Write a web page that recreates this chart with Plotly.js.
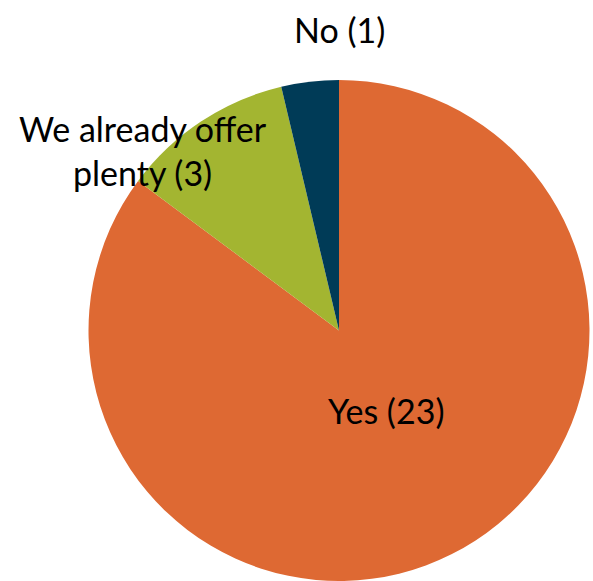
<!DOCTYPE html>
<html>
<head>
<meta charset="utf-8">
<script src="https://cdn.plot.ly/plotly-3.0.1.min.js"></script>
<style>html,body{margin:0;padding:0;background:#fff;}</style>
</head>
<body>
<div id="chart" style="width:593px;height:581px;"></div>
<script>
const labels = ["Yes", "We already offer plenty", "No"];
const values = [23, 3, 1];
const colors = ["#DE6933", "#A3B531", "#003B57"];
const labelText = ["Yes (23)", "We already offer<br>plenty (3)", "No (1)"];

const font = "Lato, 'Open Sans', sans-serif";
const fsize = 34;

const trace = {
  type: "pie",
  labels: labels,
  values: values,
  sort: false,
  direction: "clockwise",
  rotation: 0,
  marker: {colors: colors, line: {width: 0}},
  textinfo: "none",
  hoverinfo: "none",
  showlegend: false,
  domain: {x: [87/593, 591/593], y: [0, 1 - 80/581]}
};

function ann(text, px, py) {
  return {text: text, x: px/593, y: 1 - py/581, xref: "paper", yref: "paper",
    xanchor: "center", yanchor: "middle", showarrow: false,
    font: {family: font, size: fsize, color: "#000"}};
}

const layout = {
  width: 593, height: 581,
  margin: {l: 0, r: 0, t: 0, b: 0},
  paper_bgcolor: "#fff",
  showlegend: false,
  annotations: [
    ann(labelText[0], 386, 410),
    ann(labelText[1], 143, 150),
    ann(labelText[2], 339, 30)
  ]
};

Plotly.newPlot("chart", [trace], layout, {displayModeBar: false, staticPlot: true});
</script>
</body>
</html>
